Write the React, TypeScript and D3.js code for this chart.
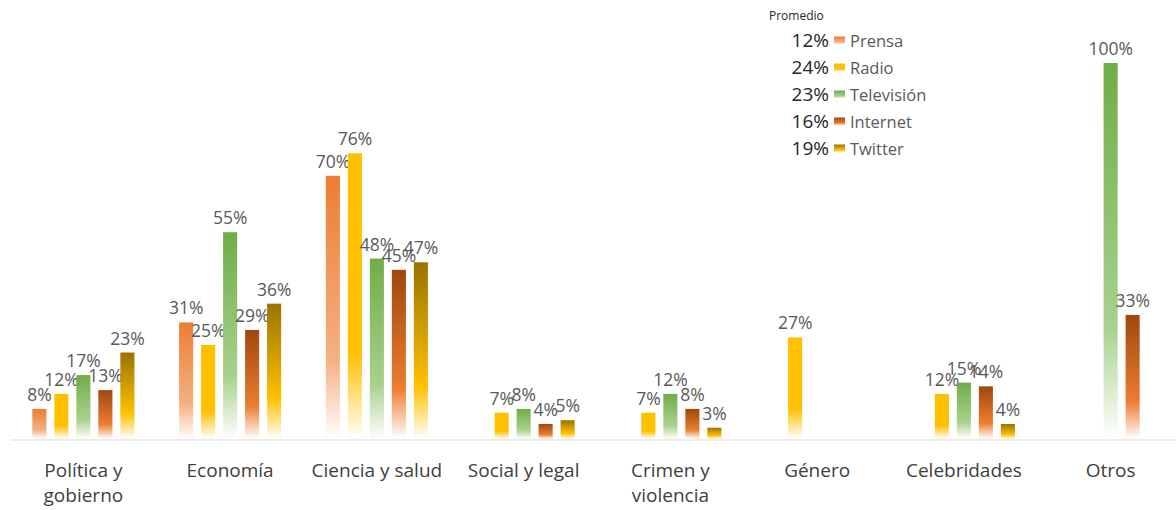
import React from "react";
import * as d3 from "d3";

const categories = ["Política y gobierno", "Economía", "Ciencia y salud", "Social y legal", "Crimen y violencia", "Género", "Celebridades", "Otros"];
const categoryLines = [["Política y", "gobierno"], ["Economía"], ["Ciencia y salud"], ["Social y legal"], ["Crimen y", "violencia"], ["Género"], ["Celebridades"], ["Otros"]];
const series = ["Prensa", "Radio", "Televisión", "Internet", "Twitter"];
const prensa = [8, 31, 70, 0, 0, 0, 0, 0];
const radio = [12, 25, 76, 7, 7, 27, 12, 0];
const television = [17, 55, 48, 8, 12, 0, 15, 100];
const internet = [13, 29, 45, 4, 8, 0, 14, 33];
const twitter = [23, 36, 47, 5, 3, 0, 4, 0];
const promedios = ["12%", "24%", "23%", "16%", "19%"];

const values = [prensa, radio, television, internet, twitter];
const gradStops: [string, string][] = [
  ["#ED7D31", "#F4B183"],
  ["#FFC000", "#FFC000"],
  ["#70AD47", "#A9D18E"],
  ["#9E480E", "#ED7D31"],
  ["#997300", "#FFC000"],
];

const W = 1176, H = 510;
const baseY = 439;
const font = "Open Sans, Noto Sans, sans-serif";

export default function App() {
  const x = d3.scaleBand<string>().domain(categories).range([10, 1184]).padding(0);
  const xs = d3.scaleBand<string>().domain(series).range([-55, 55]).paddingInner(0.36).paddingOuter(0.18);
  const y = d3.scaleLinear().domain([0, 100]).range([baseY, 63]);
  return (
    <svg width={W} height={H} style={{ position: "absolute", left: 0, top: 0, background: "#fff" }}>
      <defs>
        {gradStops.map((g, i) => (
          <linearGradient key={i} id={`g${i}`} x1="0" y1="0" x2="0" y2="1">
            <stop offset="0%" stopColor={g[0]} />
            <stop offset="70%" stopColor={g[1]} />
            <stop offset="100%" stopColor="#ffffff" />
          </linearGradient>
        ))}
      </defs>
      <line x1={10} x2={1176} y1={baseY + 1} y2={baseY + 1} stroke="#d9d9d9" strokeWidth={1} />
      {categories.map((c, ci) => {
        const cx = (x(c) as number) + x.bandwidth() / 2;
        return (
          <g key={c}>
            {series.map((s, si) => {
              const v = values[si][ci];
              if (!v) return null;
              const bx = cx + (xs(s) as number);
              return (
                <g key={s}>
                  <rect x={bx} y={y(v)} width={xs.bandwidth()} height={baseY - y(v)} fill={`url(#g${si})`} />
                  <text x={bx + xs.bandwidth() / 2} y={y(v) - 8} textAnchor="middle" fontFamily={font} fontSize={17.5} fill="#595959">
                    {v}%
                  </text>
                </g>
              );
            })}
            <text textAnchor="middle" fontFamily={font} fontSize={19} fill="#404040">
              {categoryLines[ci].map((l, li) => (
                <tspan key={li} x={cx} y={477 + li * 25}>{l}</tspan>
              ))}
            </text>
          </g>
        );
      })}
      <text x={769} y={20} fontFamily={font} fontSize={12} fill="#262626">Promedio</text>
      {series.map((s, i) => {
        const ry = 40.5 + i * 27;
        return (
          <g key={s}>
            <text x={829} y={ry + 6.5} textAnchor="end" fontFamily={font} fontSize={19} fill="#262626">{promedios[i]}</text>
            <rect x={834} y={ry - 4} width={11} height={8} fill={`url(#g${i})`} />
            <text x={850} y={ry + 6} fontFamily={font} fontSize={16.5} fill="#595959">{s}</text>
          </g>
        );
      })}
    </svg>
  );
}
